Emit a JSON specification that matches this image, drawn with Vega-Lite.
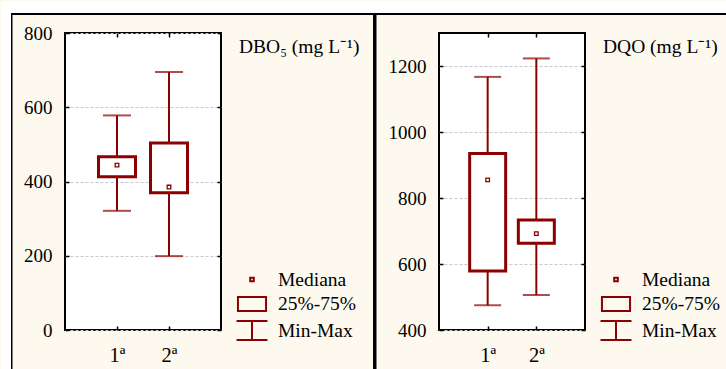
{
  "$schema": "https://vega.github.io/schema/vega-lite/v6.json",
  "background": "#fdf9ee",
  "padding": 0,
  "autosize": {"type": "pad"},
  "config": {
    "font": "Liberation Serif",
    "view": {"fill": "white", "stroke": "#000", "strokeWidth": 2},
    "axis": {
      "labelFont": "Liberation Serif", "labelFontSize": 19, "labelColor": "#000",
      "tickColor": "#000", "tickWidth": 1.5, "tickSize": -4, "domain": false, "title": null,
      "gridColor": "#c8c8c8", "gridDash": [3, 2], "gridWidth": 1
    },
    "legend": {"labelFont": "Liberation Serif", "titleFont": "Liberation Serif"}
  },
  "datasets": {
    "dbo": [
      {"etapa": "1ª", "min": 321, "q1": 413, "med": 444, "q3": 467, "max": 578},
      {"etapa": "2ª", "min": 199, "q1": 370, "med": 385, "q3": 504, "max": 695}
    ],
    "dqo": [
      {"etapa": "1ª", "min": 475, "q1": 579, "med": 855, "q3": 935, "max": 1167},
      {"etapa": "2ª", "min": 506, "q1": 663, "med": 692, "q3": 733, "max": 1223}
    ]
  },
  "bounds": "flush",
  "spacing": 218,
  "resolve": {"scale": {"shape": "independent", "color": "independent"}, "legend": {"shape": "independent", "color": "independent"}},
  "hconcat": [
    {
      "width": 156, "height": 297,
      "data": {"name": "dbo"},
      "resolve": {"axis": {"x": "independent", "y": "independent"}, "scale": {"color": "independent"}, "legend": {"color": "independent"}},
      "layer": [
        {
          "mark": {"type": "rule", "color": "#8B0000", "strokeWidth": 2},
          "encoding": {
            "x": {"field": "etapa", "type": "nominal", "sort": null, "scale": {"type": "point", "padding": 1}, "axis": {"orient": "bottom", "labelAngle": 0, "labelPadding": 19, "labelFontSize": 20.5, "labelFont": "Liberation Serif"}},
            "y": {"field": "min", "type": "quantitative", "scale": {"domain": [0, 800], "nice": false, "zero": false}, "axis": {"orient": "left", "values": [0, 200, 400, 600, 800], "grid": true, "labelPadding": 17, "format": "d", "labelFont": "Liberation Serif"}},
            "y2": {"field": "max"}
          }
        },
        {
          "mark": {"type": "tick", "color": "#8B0000", "thickness": 2, "size": 28},
          "encoding": {
            "x": {"field": "etapa", "type": "nominal", "sort": null, "axis": {"orient": "top", "labels": false}},
            "y": {"field": "min", "type": "quantitative", "axis": {"orient": "right", "labels": false, "grid": false, "values": [0, 200, 400, 600, 800]}}
          }
        },
        {
          "mark": {"type": "tick", "color": "#8B0000", "thickness": 2, "size": 28},
          "encoding": {
            "x": {"field": "etapa", "type": "nominal", "sort": null, "axis": null},
            "y": {"field": "max", "type": "quantitative", "axis": null}
          }
        },
        {
          "mark": {"type": "bar", "fill": "white", "stroke": "#8B0000", "strokeWidth": 3, "size": 37},
          "encoding": {
            "x": {"field": "etapa", "type": "nominal", "sort": null, "axis": null},
            "y": {"field": "q1", "type": "quantitative", "axis": null},
            "y2": {"field": "q3"}
          }
        },
        {
          "mark": {"type": "point", "filled": false, "color": "#8B0000", "strokeWidth": 1.3, "size": 576, "opacity": 1},
          "encoding": {
            "x": {"field": "etapa", "type": "nominal", "sort": null, "axis": null},
            "y": {"field": "med", "type": "quantitative", "axis": null},
            "shape": {
              "datum": "Mediana", "type": "nominal",
              "scale": {
                "domain": ["Mediana", "25%-75%", "Min-Max"],
                "range": ["M-0.15,-0.15H0.15V0.15H-0.15Z", "M-1.17,-0.58H1.17V0.58H-1.17Z", "M-1.29,-0.79H1.29M0,-0.79V0.79M-1.29,0.79H1.29"]
              },
              "legend": {
                "orient": "none", "legendX": 174, "legendY": 5, "padding": 0,
                "title": "DBO₅ (mg L⁻¹)", "titlePadding": 209, "titleFontSize": 19.5, "titleFontWeight": "normal", "titleColor": "#000", "titleFont": "Liberation Serif", "titleLimit": 300,
                "labelFontSize": 19.5, "labelColor": "#000", "labelOffset": 13, "labelFont": "Liberation Serif",
                "symbolSize": 576, "symbolStrokeWidth": 2, "symbolStrokeColor": "#8B0000", "symbolFillColor": "transparent", "symbolOpacity": 1,
                "rowPadding": 1.5,
                "encode": {
                  "title": {"update": {"dx": {"value": 3}}},
                  "symbols": {"update": {"strokeWidth": {"signal": "datum.value === 'Mediana' ? 1.3 : datum.value === '25%-75%' ? 3 : 2"}}}
                }
              }
            }
          }
        },
        {
          "mark": {"type": "point", "opacity": 0},
          "encoding": {
            "x": {"field": "etapa", "type": "nominal", "sort": null, "axis": null},
            "y": {"field": "min", "type": "quantitative", "axis": null},
            "color": {
              "field": "min", "type": "quantitative",
              "scale": {"domain": [0, 1], "range": ["#ffffff", "#ffffff"]},
              "legend": {"orient": "none", "legendX": -64, "legendY": -32, "direction": "horizontal", "gradientLength": 726, "gradientThickness": 12, "title": null, "labelExpr": "''", "gradientStrokeWidth": 0, "padding": 0}
            }
          }
        },
        {
          "mark": {"type": "point", "opacity": 0},
          "encoding": {
            "x": {"field": "etapa", "type": "nominal", "sort": null, "axis": null},
            "y": {"field": "min", "type": "quantitative", "axis": null},
            "color": {
              "field": "max", "type": "quantitative",
              "scale": {"domain": [0, 1], "range": ["#ffffff", "#ffffff"]},
              "legend": {"orient": "none", "legendX": -64, "legendY": -32, "direction": "vertical", "gradientLength": 369, "gradientThickness": 10, "title": null, "labelExpr": "''", "gradientStrokeWidth": 0, "padding": 0}
            }
          }
        },
        {
          "mark": {"type": "point", "opacity": 0},
          "encoding": {
            "x": {"field": "etapa", "type": "nominal", "sort": null, "axis": null},
            "y": {"field": "min", "type": "quantitative", "axis": null},
            "color": {
              "field": "q1", "type": "quantitative",
              "scale": {"domain": [0, 1], "range": ["#000000", "#000000"]},
              "legend": {"orient": "none", "legendX": -54, "legendY": -20, "direction": "horizontal", "gradientLength": 716, "gradientThickness": 2, "title": null, "labelExpr": "''", "gradientStrokeWidth": 0, "padding": 0}
            }
          }
        },
        {
          "mark": {"type": "point", "opacity": 0},
          "encoding": {
            "x": {"field": "etapa", "type": "nominal", "sort": null, "axis": null},
            "y": {"field": "min", "type": "quantitative", "axis": null},
            "color": {
              "field": "q3", "type": "quantitative",
              "scale": {"domain": [0, 1], "range": ["#000000", "#000000"]},
              "legend": {"orient": "none", "legendX": -54, "legendY": -20, "direction": "vertical", "gradientLength": 357, "gradientThickness": 1.5, "title": null, "labelExpr": "''", "gradientStrokeWidth": 0, "padding": 0}
            }
          }
        },
        {
          "mark": {"type": "point", "opacity": 0},
          "encoding": {
            "x": {"field": "etapa", "type": "nominal", "sort": null, "axis": null},
            "y": {"field": "min", "type": "quantitative", "axis": null},
            "color": {
              "field": "med", "type": "quantitative",
              "scale": {"domain": [0, 1], "range": ["#000000", "#000000"]},
              "legend": {"orient": "none", "legendX": 308, "legendY": -20, "direction": "vertical", "gradientLength": 357, "gradientThickness": 3.5, "title": null, "labelExpr": "''", "gradientStrokeWidth": 0, "padding": 0}
            }
          }
        }
      ]
    },
    {
      "width": 146, "height": 297,
      "data": {"name": "dqo"},
      "resolve": {"axis": {"x": "independent", "y": "independent"}},
      "layer": [
        {
          "mark": {"type": "rule", "color": "#8B0000", "strokeWidth": 2},
          "encoding": {
            "x": {"field": "etapa", "type": "nominal", "sort": null, "scale": {"type": "point", "padding": 1}, "axis": {"orient": "bottom", "labelAngle": 0, "labelPadding": 19, "labelFontSize": 20.5, "labelFont": "Liberation Serif"}},
            "y": {"field": "min", "type": "quantitative", "scale": {"domain": [400, 1300], "nice": false, "zero": false}, "axis": {"orient": "left", "values": [400, 600, 800, 1000, 1200], "grid": true, "labelPadding": 17, "format": "d", "labelFont": "Liberation Serif"}},
            "y2": {"field": "max"}
          }
        },
        {
          "mark": {"type": "tick", "color": "#8B0000", "thickness": 2, "size": 27},
          "encoding": {
            "x": {"field": "etapa", "type": "nominal", "sort": null, "axis": {"orient": "top", "labels": false}},
            "y": {"field": "min", "type": "quantitative", "axis": {"orient": "right", "labels": false, "grid": false, "values": [400, 600, 800, 1000, 1200]}}
          }
        },
        {
          "mark": {"type": "tick", "color": "#8B0000", "thickness": 2, "size": 27},
          "encoding": {
            "x": {"field": "etapa", "type": "nominal", "sort": null, "axis": null},
            "y": {"field": "max", "type": "quantitative", "axis": null}
          }
        },
        {
          "mark": {"type": "bar", "fill": "white", "stroke": "#8B0000", "strokeWidth": 3, "size": 36},
          "encoding": {
            "x": {"field": "etapa", "type": "nominal", "sort": null, "axis": null},
            "y": {"field": "q1", "type": "quantitative", "axis": null},
            "y2": {"field": "q3"}
          }
        },
        {
          "mark": {"type": "point", "filled": false, "color": "#8B0000", "strokeWidth": 1.3, "size": 576, "opacity": 1},
          "encoding": {
            "x": {"field": "etapa", "type": "nominal", "sort": null, "axis": null},
            "y": {"field": "med", "type": "quantitative", "axis": null},
            "shape": {
              "datum": "Mediana", "type": "nominal",
              "scale": {
                "domain": ["Mediana", "25%-75%", "Min-Max"],
                "range": ["M-0.15,-0.15H0.15V0.15H-0.15Z", "M-1.17,-0.58H1.17V0.58H-1.17Z", "M-1.29,-0.79H1.29M0,-0.79V0.79M-1.29,0.79H1.29"]
              },
              "legend": {
                "orient": "none", "legendX": 164, "legendY": 5, "padding": 0,
                "title": "DQO (mg L⁻¹)", "titlePadding": 209, "titleFontSize": 19.5, "titleFontWeight": "normal", "titleColor": "#000", "titleFont": "Liberation Serif", "titleLimit": 300,
                "labelFontSize": 19.5, "labelColor": "#000", "labelOffset": 13, "labelFont": "Liberation Serif",
                "symbolSize": 576, "symbolStrokeWidth": 2, "symbolStrokeColor": "#8B0000", "symbolFillColor": "transparent", "symbolOpacity": 1,
                "rowPadding": 1.5,
                "encode": {
                  "title": {"update": {"dx": {"value": 7}}},
                  "symbols": {"update": {"strokeWidth": {"signal": "datum.value === 'Mediana' ? 1.3 : datum.value === '25%-75%' ? 3 : 2"}}}
                }
              }
            }
          }
        }
      ]
    }
  ]
}
